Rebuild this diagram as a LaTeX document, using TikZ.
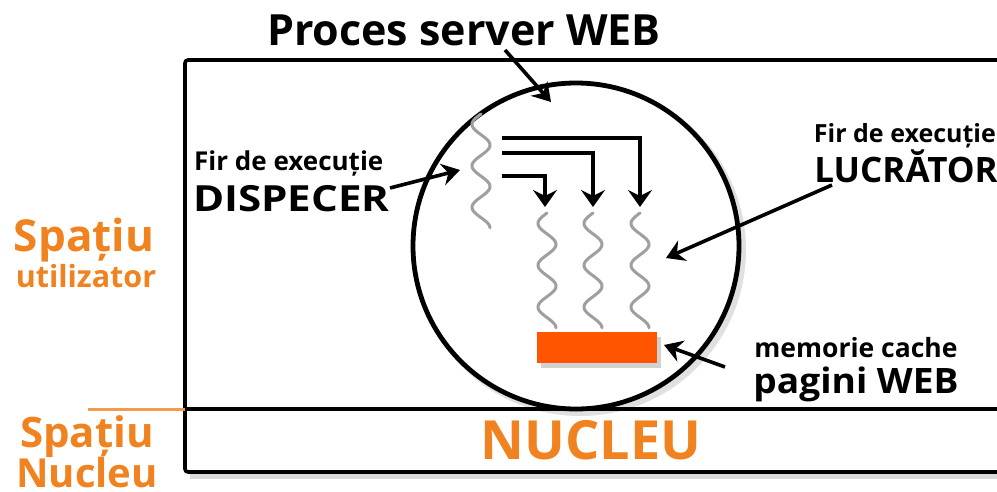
\documentclass[tikz,border=0pt]{standalone}
\usepackage{fontspec}
\setmainfont{Open Sans}
\usetikzlibrary{arrows.meta}
\definecolor{orng}{RGB}{240,130,32}
\definecolor{cacheor}{RGB}{255,85,0}
\tikzset{
  lbl/.style={inner sep=0pt, font=\bfseries},
  orlbl/.style={lbl, text=orng},
  ptr/.style={line width=3.6pt, -{Stealth[length=18pt,width=22pt,inset=6pt]}},
  dsp/.style={line width=3.8pt, -{Stealth[length=17pt,width=24pt,inset=6pt]}},
  thr/.style={line width=3pt, gray!75, line cap=round},
  shadowline/.style={line width=5pt, black!15},
}
\newcommand{\wave}[4]{% x, ytop, ybottom, name
  \draw[thr] plot[domain=0:1, samples=100] ({#1 - 9*sin(360*2.75*\x)}, {#2 + (#3-#2)*\x});
  \coordinate (#4top) at (#1,#2);
  \coordinate (#4bot) at (#1,#3);
}
\begin{document}
\begin{tikzpicture}[x=1pt,y=-1pt]
\useasboundingbox (0,0) rectangle (997,492);
% shadows
\draw[shadowline] (190,476) -- (1000,476);
\draw[line width=6pt, black!12] (580,250) circle (163);
% outer rectangle
\draw[line width=3.6pt, rounded corners=3pt] (1000,60) -- (185,60) -- (185,472) -- (1000,472);
\coordinate (divL) at (185,409);
\coordinate (divR) at (1000,409);
\draw[line width=3.6pt] (divL) -- (divR);
\coordinate (orL) at (88,409);
\draw[line width=3pt, orng!80] (orL) -- (divL);
% process circle
\node[circle, draw, line width=4.8pt, minimum size=326pt, inner sep=0pt, fill=white] (proc) at (576,246) {};
% threads
\wave{481}{114}{228}{disp}
\wave{547}{213}{328}{wa}
\wave{593}{213}{328}{wb}
\wave{640}{213}{328}{wc}
% dispatch arrows
\coordinate (s1) at (502,138);
\coordinate (s2) at (502,153);
\coordinate (s3) at (502,176);
\coordinate (t1) at (640,207);
\coordinate (t2) at (593,207);
\coordinate (t3) at (545,207);
\draw[dsp] (s1) -| (t1);
\draw[dsp] (s2) -| (t2);
\draw[dsp] (s3) -| (t3);
% cache
\fill[black!18] (541,337) rectangle (661,368);
\node[fill=cacheor, minimum width=120pt, minimum height=31pt, inner sep=0pt] (cache) at (597,347.5) {};
% labels
\node[lbl, font=\bfseries\fontsize{43}{46}\selectfont] (title) at (464,30) {Proces server WEB};
\node[lbl, anchor=west, font=\bfseries\fontsize{26}{28}\selectfont] (dl1) at (194,163) {Fir de execuție};
\node[lbl, anchor=west, font=\bfseries\fontsize{36}{40}\selectfont] (dl2) at (193,199) {\scalebox{1.17}[1]{DISPECER}};
\node[lbl, anchor=east, font=\bfseries\fontsize{25}{28}\selectfont] (ll1) at (996,136) {Fir de execuție};
\node[lbl, anchor=east, font=\bfseries\fontsize{35}{40}\selectfont] (ll2) at (998,166) {LUCRĂTOR};
\node[lbl, font=\bfseries\fontsize{26.5}{30}\selectfont] (ml1) at (856,348) {memorie cache};
\node[lbl, font=\bfseries\fontsize{35}{40}\selectfont] (ml2) at (856,384) {\scalebox{1.06}[1]{pagini WEB}};
\node[orlbl, font=\bfseries\fontsize{44}{50}\selectfont] (su1) at (84,240) {Spațiu};
\node[orlbl, font=\bfseries\fontsize{30.5}{32}\selectfont] (su2) at (86,276) {utilizator};
\node[orlbl, font=\bfseries\fontsize{42}{46}\selectfont] (sn1) at (87,437) {Spațiu};
\node[orlbl, font=\bfseries\fontsize{40}{46}\selectfont] (sn2) at (87,472) {Nucleu};
\node[orlbl, font=\bfseries\fontsize{54}{60}\selectfont] (nuc) at (591,440) {NUCLEU};
% pointer arrows
\coordinate (a1s) at (505,50);
\coordinate (a1e) at (551,102);
\coordinate (a2s) at (390,188);
\coordinate (a2e) at (460,170);
\coordinate (a3s) at (832,185);
\coordinate (a3e) at (666,258);
\coordinate (a4s) at (725,367);
\coordinate (a4e) at (664,345);
\draw[ptr] (a1s) -- (a1e);
\draw[ptr] (a2s) -- (a2e);
\draw[ptr] (a3s) -- (a3e);
\draw[ptr] (a4s) -- (a4e);
\end{tikzpicture}
\end{document}
